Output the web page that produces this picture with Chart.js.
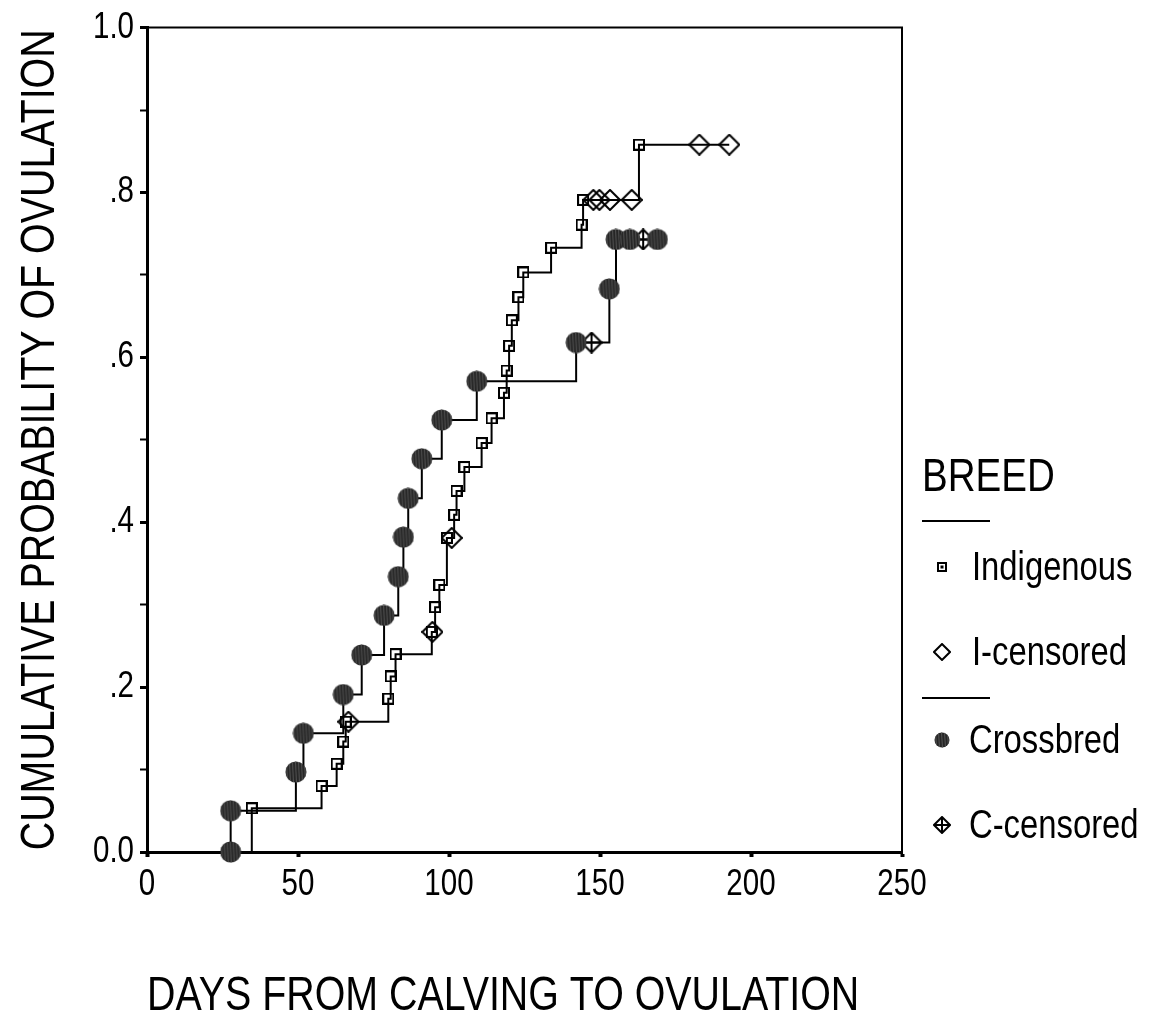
<!DOCTYPE html>
<html>
<head>
<meta charset="utf-8">
<title>Cumulative probability of ovulation by breed</title>
<script src="https://cdn.jsdelivr.net/npm/chart.js@4.4.1/dist/chart.umd.min.js"></script>
<style>
  html, body { margin: 0; padding: 0; background: #fff; }
  canvas { display: block; }
</style>
</head>
<body>
<canvas id="kmChart" width="1155" height="1016"></canvas>
<script>
// Indigenous: days at each ovulation and cumulative probability after it
const indigenousDays = [34.7, 57.8, 62.8, 65.0, 65.8, 79.9, 80.7, 82.3, 94.3, 95.4, 96.8, 99.3,
  101.7, 102.5, 105.1, 110.8, 114.1, 118.2, 119.1, 119.9, 120.8, 123.0, 124.6, 133.8, 143.9, 144.4, 162.9];
const indigenousProb = [0.053, 0.080, 0.107, 0.134, 0.158, 0.186, 0.213, 0.240, 0.267, 0.297, 0.324, 0.381,
  0.409, 0.438, 0.467, 0.496, 0.526, 0.557, 0.584, 0.614, 0.645, 0.673, 0.703, 0.733, 0.761, 0.791, 0.858];
// Indigenous censored cases
const indigenousCensDays = [66.7, 94.5, 100.9, 147.8, 149.8, 153.3, 160.5, 182.9, 192.8];
const indigenousCensProb = [0.158, 0.267, 0.381, 0.791, 0.791, 0.791, 0.791, 0.858, 0.858];

// Crossbred
const crossbredDays = [27.7, 27.7, 49.3, 51.8, 65.0, 71.1, 78.5, 83.2, 84.9, 86.5, 91.0, 97.6,
  109.2, 142.1, 153.1, 155.3, 159.9, 169.0];
const crossbredProb = [0.0, 0.050, 0.097, 0.144, 0.191, 0.239, 0.287, 0.334, 0.382, 0.429, 0.477, 0.524,
  0.571, 0.618, 0.683, 0.743, 0.743, 0.743];
const crossbredCensDays = [147.2, 164.3];
const crossbredCensProb = [0.618, 0.743];

const xTickValues = [0, 50, 100, 150, 200, 250];
const yTickValues = [0, 0.1, 0.2, 0.3, 0.4, 0.5, 0.6, 0.7, 0.8, 0.9, 1.0];
const yTickLabels = ['0.0', '', '.2', '', '.4', '', '.6', '', '.8', '', '1.0'];

const FONT = "'Liberation Sans', Arial, sans-serif";
const NARROW = 0.82; // squeeze text sideways, the original uses a narrow face

// marker images
function mk(size, draw) {
  const c = document.createElement('canvas');
  c.width = c.height = size;
  const g = c.getContext('2d');
  g.strokeStyle = '#000';
  g.fillStyle = '#000';
  g.lineWidth = 2;
  draw(g, size);
  return c;
}
const squareMark = (size, dot) => mk(size, (g, s) => {
  g.strokeRect(1, 1, s - 2, s - 2);
  if (dot) g.fillRect(s / 2 - 1.5, s / 2 - 1.5, 3, 3);
});
const diamondMark = (size, cross) => mk(size, (g, s) => {
  const h = s / 2;
  g.beginPath();
  g.moveTo(h, 1); g.lineTo(s - 1, h); g.lineTo(h, s - 1); g.lineTo(1, h); g.closePath();
  if (cross) {
    g.moveTo(h, 1); g.lineTo(h, s - 1);
    g.moveTo(1, h); g.lineTo(s - 1, h);
  }
  g.stroke();
});
const blobMark = (size) => mk(size, (g, s) => {
  const h = s / 2;
  g.beginPath();
  g.arc(h, h, h - 0.5, 0, Math.PI * 2);
  g.fillStyle = '#262626';
  g.fill();
  g.save();
  g.clip();
  g.strokeStyle = '#555';
  g.lineWidth = 1;
  for (let x = 1.5; x < s; x += 3) {
    g.beginPath(); g.moveTo(x, 0); g.lineTo(x + 1, s); g.stroke();
  }
  g.restore();
});

const pts = (xs, ys) => xs.map((x, i) => ({x: x, y: ys[i]}));
// step path: start at origin, then every event/censored time in order
function stepPath(days, prob, cDays, cProb) {
  const all = pts(days, prob).concat(pts(cDays, cProb));
  all.sort((a, b) => a.x - b.x);
  return [{x: 0, y: 0}].concat(all);
}

const lineStyle = {
  type: 'line', stepped: 'before', borderColor: '#000', borderWidth: 2,
  pointRadius: 0, fill: false, tension: 0, order: 2
};
const markStyle = {pointRadius: 10, showLine: false, clip: false, order: 1};

const legendItems = [
  {kind: 'title', text: 'BREED'},
  {kind: 'line'},
  {kind: 'mark', text: 'Indigenous', img: squareMark(10, true)},
  {kind: 'mark', text: 'I-censored', img: diamondMark(18, false)},
  {kind: 'line'},
  {kind: 'mark', text: 'Crossbred', img: blobMark(16)},
  {kind: 'mark', text: 'C-censored', img: diamondMark(18, true)}
];
const legendY = [478, 521, 567, 652, 698, 740, 825];

const boxPlugin = {
  id: 'box',
  beforeDatasetsDraw(chart) {
    const {ctx, chartArea: a} = chart;
    ctx.save();
    ctx.strokeStyle = '#000';
    ctx.lineWidth = 2;
    ctx.beginPath();
    ctx.moveTo(a.left, a.top);
    ctx.lineTo(a.right, a.top);
    ctx.lineTo(a.right, a.bottom);
    ctx.stroke();
    ctx.restore();
  }
};

const legendPlugin = {
  id: 'breedLegend',
  afterDraw(chart) {
    const ctx = chart.ctx;
    const x0 = chart.chartArea.right + 20;
    ctx.save();
    ctx.fillStyle = '#000';
    ctx.strokeStyle = '#000';
    ctx.textBaseline = 'middle';
    ctx.textAlign = 'left';
    legendItems.forEach((it, i) => {
      const y = legendY[i];
      if (it.kind === 'title') {
        ctx.font = '47px ' + FONT;
        ctx.fillText(it.text, x0, y);
      } else if (it.kind === 'line') {
        ctx.lineWidth = 2;
        ctx.beginPath();
        ctx.moveTo(x0, y);
        ctx.lineTo(x0 + 68, y);
        ctx.stroke();
      } else {
        ctx.drawImage(it.img, x0 + 20 - it.img.width / 2, y - it.img.height / 2);
        ctx.font = '40px ' + FONT;
        ctx.fillText(it.text, x0 + (i > 4 ? 47 : 50), y + 2);
      }
    });
    ctx.restore();
  }
};

const ctx = document.getElementById('kmChart').getContext('2d');
// every label goes through fillText: draw it condensed around its anchor
const rawFillText = ctx.fillText;
ctx.fillText = function (text, x, y) {
  this.save();
  this.translate(x, y);
  this.scale(NARROW, 1);
  rawFillText.call(this, text, 0, 0);
  this.restore();
};

new Chart(ctx, {
  type: 'scatter',
  data: {
    datasets: [
      Object.assign({label: 'Indigenous line', data: stepPath(indigenousDays, indigenousProb, indigenousCensDays, indigenousCensProb)}, lineStyle),
      Object.assign({label: 'Crossbred line', data: stepPath(crossbredDays, crossbredProb, crossbredCensDays, crossbredCensProb)}, lineStyle),
      Object.assign({label: 'Indigenous', data: pts(indigenousDays, indigenousProb), pointStyle: squareMark(12, false)}, markStyle),
      Object.assign({label: 'I-censored', data: pts(indigenousCensDays, indigenousCensProb), pointStyle: diamondMark(22, false)}, markStyle),
      Object.assign({label: 'Crossbred', data: pts(crossbredDays, crossbredProb), pointStyle: blobMark(22)}, markStyle),
      Object.assign({label: 'C-censored', data: pts(crossbredCensDays, crossbredCensProb), pointStyle: diamondMark(22, true)}, markStyle)
    ]
  },
  options: {
    responsive: false,
    animation: false,
    layout: {padding: {top: 24, right: 253, left: 0, bottom: 0}},
    plugins: {
      legend: {display: false},
      tooltip: {enabled: false}
    },
    scales: {
      x: {
        type: 'linear', min: 0, max: 250,
        afterFit(s) { s.height = 164; },
        afterBuildTicks(s) { s.ticks = xTickValues.map(v => ({value: v})); },
        ticks: {color: '#000', padding: 6, maxRotation: 0, font: {family: FONT, size: 36}},
        grid: {drawOnChartArea: false, tickLength: 5, tickWidth: 4, tickColor: '#000'},
        border: {display: true, color: '#000', width: 3},
        title: {
          display: true, text: 'DAYS FROM CALVING TO OVULATION', align: 'start',
          color: '#000', padding: 0, font: {family: FONT, size: 48, lineHeight: 0.8}
        }
      },
      y: {
        type: 'linear', min: 0, max: 1,
        afterFit(s) { s.width = 147; },
        afterBuildTicks(s) { s.ticks = yTickValues.map(v => ({value: v})); },
        ticks: {
          color: '#000', padding: 6, font: {family: FONT, size: 36},
          callback: (v, i) => yTickLabels[i]
        },
        grid: {
          drawOnChartArea: false, tickLength: 7, tickColor: '#000',
          tickWidth: c => (c.index % 2 === 0 ? 3 : 2)
        },
        border: {display: true, color: '#000', width: 3},
        title: {
          display: true, text: 'CUMULATIVE PROBABILITY OF OVULATION',
          color: '#000', padding: {top: 12, bottom: 0}, font: {family: FONT, size: 48}
        }
      }
    }
  },
  plugins: [boxPlugin, legendPlugin]
});
</script>
</body>
</html>
